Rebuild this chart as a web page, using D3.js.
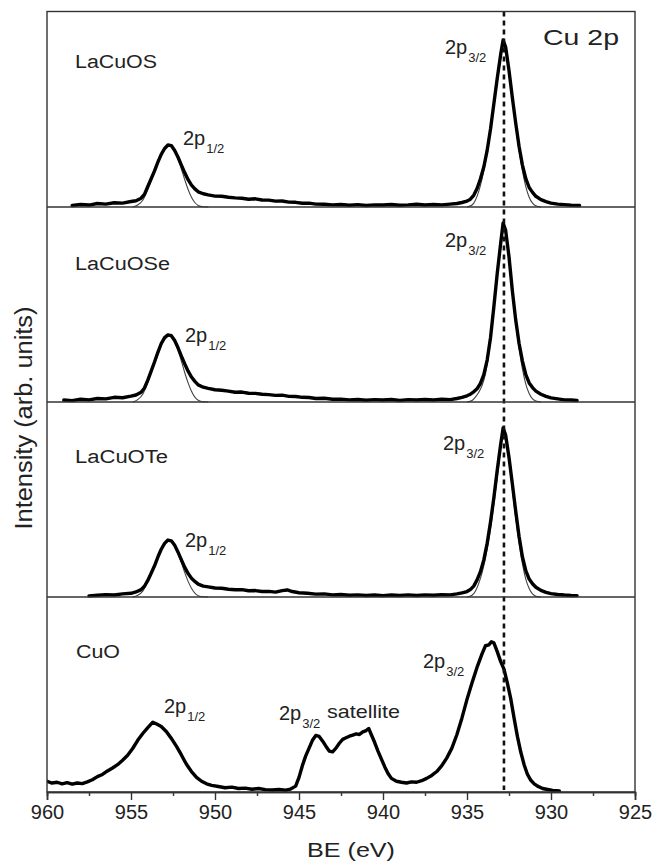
<!DOCTYPE html>
<html>
<head>
<meta charset="utf-8">
<script src="https://cdn.jsdelivr.net/npm/d3@7"></script>
<style>
  html, body { margin: 0; padding: 0; background: #fff; }
  svg { display: block; font-family: "Liberation Sans", Arial, sans-serif; }
</style>
</head>
<body>
<svg id="chart" width="654" height="865"></svg>
<script>
// ---------------- DATA ----------------
const panelNames = ["LaCuOS", "LaCuOSe", "LaCuOTe", "CuO"];
const xTicksMajor = [960, 955, 950, 945, 940, 935, 930, 925];
const xTicksMinor = [957.5, 952.5, 947.5, 942.5, 937.5, 932.5, 927.5];
const refLineBE = 932.8;

// [BE (eV), intensity (arb.)]
const lacuosData = [[958.5,0.8],[958.0,1.3],[957.5,1.0],[957.0,1.8],[956.5,1.5],[956.0,2.2],[955.5,2.0],[955.0,2.8],[954.7,3.2],[954.4,4.5],[954.2,6.5],[954.0,10.5],[953.8,14.5],[953.6,18.5],[953.4,23.0],[953.2,27.0],[953.0,30.0],[952.8,31.8],[952.6,31.5],[952.4,29.0],[952.2,25.5],[952.0,21.5],[951.8,17.5],[951.6,14.0],[951.4,11.2],[951.2,9.3],[951.0,7.8],[950.7,6.8],[950.4,6.2],[950.0,5.6],[949.6,5.5],[949.2,5.0],[948.8,4.7],[948.4,4.5],[948.0,4.0],[947.6,4.2],[947.2,3.6],[946.8,3.5],[946.4,3.0],[946.0,3.1],[945.6,2.5],[945.2,2.4],[944.8,1.9],[944.4,2.0],[944.0,1.5],[943.5,1.4],[943.0,1.1],[942.5,1.3],[942.0,0.9],[941.5,1.2],[941.0,0.8],[940.5,1.1],[940.0,1.0],[939.5,1.3],[939.0,0.9],[938.5,1.1],[938.0,1.4],[937.5,1.0],[937.0,1.3],[936.5,1.1],[936.0,1.5],[935.6,1.8],[935.3,2.3],[935.0,3.0],[934.8,4.0],[934.6,6.0],[934.4,9.5],[934.2,14.5],[934.0,20.5],[933.8,29.0],[933.6,40.0],[933.4,53.0],[933.2,66.0],[933.0,78.0],[932.85,85.6],[932.7,82.0],[932.5,70.0],[932.3,56.0],[932.1,43.0],[931.9,31.0],[931.7,21.5],[931.5,14.5],[931.3,10.0],[931.1,7.5],[930.9,5.5],[930.6,3.8],[930.3,2.8],[930.0,2.0],[929.6,1.5],[929.2,1.2],[928.8,0.9],[928.3,0.8]];
const lacuosFit32 = [[935.0,0],[934.7,1.0],[934.5,3.5],[934.3,8.0],[934.1,14.5],[933.9,23.0],[933.7,33.5],[933.5,46.0],[933.3,59.0],[933.1,72.0],[932.95,80.5],[932.85,84.5],[932.7,81.0],[932.5,69.0],[932.3,55.0],[932.1,41.5],[931.9,29.0],[931.7,18.5],[931.5,10.5],[931.3,5.0],[931.1,2.0],[930.9,0.6],[930.6,0]];
const lacuosFit12 = [[954.9,0],[954.6,1.0],[954.3,3.5],[954.0,9.0],[953.8,13.5],[953.6,18.0],[953.4,22.5],[953.2,26.5],[953.0,29.5],[952.8,31.3],[952.6,31.0],[952.4,28.5],[952.2,24.5],[952.0,19.5],[951.8,14.0],[951.6,9.0],[951.4,5.0],[951.2,2.3],[951.0,0.8],[950.7,0.1],[950.4,0]];

const lacuoseData = [[959.0,1.0],[958.5,0.7],[958.0,1.4],[957.5,1.1],[957.0,1.8],[956.5,1.6],[956.0,2.4],[955.5,2.2],[955.0,3.0],[954.7,3.6],[954.4,5.0],[954.2,7.2],[954.0,11.2],[953.8,15.8],[953.6,20.5],[953.4,25.5],[953.2,30.0],[953.0,33.0],[952.8,34.4],[952.6,34.0],[952.4,31.5],[952.2,27.8],[952.0,23.5],[951.8,19.5],[951.6,15.8],[951.4,12.8],[951.2,10.6],[951.0,8.8],[950.7,7.6],[950.4,7.0],[950.0,6.3],[949.6,6.0],[949.2,5.6],[948.8,5.0],[948.4,5.1],[948.0,4.5],[947.6,4.4],[947.2,4.0],[946.8,3.8],[946.4,3.4],[946.0,3.5],[945.6,2.9],[945.2,2.8],[944.8,2.4],[944.4,2.3],[944.0,1.8],[943.5,1.9],[943.0,1.4],[942.5,1.5],[942.0,1.1],[941.5,1.3],[941.0,0.9],[940.5,1.2],[940.0,1.0],[939.5,1.3],[939.0,0.8],[938.5,1.2],[938.0,1.0],[937.5,1.3],[937.0,1.0],[936.5,1.4],[936.0,1.2],[935.6,1.8],[935.3,2.4],[935.0,3.2],[934.8,4.0],[934.6,5.2],[934.4,6.8],[934.2,9.5],[934.0,14.0],[933.8,21.5],[933.6,33.0],[933.4,49.0],[933.2,66.0],[933.0,81.0],[932.85,91.8],[932.7,88.0],[932.5,74.5],[932.3,57.0],[932.1,42.0],[931.9,30.0],[931.7,21.0],[931.5,14.0],[931.3,9.8],[931.1,7.4],[930.9,5.6],[930.6,4.0],[930.3,2.9],[930.0,2.1],[929.6,1.6],[929.2,1.1],[928.8,1.0],[928.45,0.8]];
const lacuoseFit32 = [[935.0,0],[934.7,0.8],[934.5,2.5],[934.3,5.0],[934.1,8.5],[933.9,14.5],[933.7,25.0],[933.5,40.0],[933.3,57.0],[933.1,73.5],[932.95,85.5],[932.85,90.5],[932.7,87.0],[932.5,73.0],[932.3,56.0],[932.1,40.5],[931.9,27.5],[931.7,17.0],[931.5,9.2],[931.3,4.4],[931.1,1.6],[930.9,0.5],[930.6,0]];
const lacuoseFit12 = [[954.9,0],[954.6,1.2],[954.3,4.0],[954.0,10.0],[953.8,14.8],[953.6,19.8],[953.4,24.5],[953.2,28.8],[953.0,32.0],[952.8,33.8],[952.6,33.4],[952.4,30.8],[952.2,26.5],[952.0,21.0],[951.8,15.0],[951.6,9.8],[951.4,5.5],[951.2,2.5],[951.0,0.9],[950.7,0.1],[950.4,0]];

const lacuoteData = [[957.5,0.6],[957.0,0.9],[956.5,1.2],[956.0,1.0],[955.5,1.6],[955.0,1.9],[954.7,2.6],[954.4,3.8],[954.2,5.5],[954.0,8.5],[953.8,12.2],[953.6,16.0],[953.4,20.5],[953.2,24.5],[953.0,27.5],[952.8,29.2],[952.6,28.8],[952.4,26.5],[952.2,23.0],[952.0,19.0],[951.8,15.2],[951.6,12.0],[951.4,9.6],[951.2,8.0],[951.0,6.6],[950.7,5.6],[950.4,5.2],[950.0,4.6],[949.6,4.5],[949.2,4.0],[948.8,3.7],[948.4,3.8],[948.0,3.2],[947.6,3.3],[947.2,2.8],[946.8,2.9],[946.4,2.5],[946.0,3.3],[945.7,3.6],[945.4,2.8],[945.0,2.2],[944.5,1.9],[944.0,1.5],[943.5,1.6],[943.0,1.1],[942.5,1.3],[942.0,0.9],[941.5,1.1],[941.0,0.8],[940.5,1.0],[940.0,0.7],[939.5,1.0],[939.0,0.8],[938.5,1.1],[938.0,0.8],[937.5,1.1],[937.0,0.9],[936.5,1.2],[936.0,1.1],[935.6,1.6],[935.3,2.1],[935.0,2.8],[934.8,3.8],[934.6,5.6],[934.4,8.8],[934.2,13.0],[934.0,19.0],[933.8,27.5],[933.6,38.5],[933.4,51.0],[933.2,65.0],[933.0,78.0],[932.85,86.7],[932.7,83.0],[932.5,71.5],[932.3,58.0],[932.1,44.0],[931.9,31.0],[931.7,20.5],[931.5,13.5],[931.3,9.2],[931.1,6.8],[930.9,5.0],[930.6,3.4],[930.3,2.4],[930.0,1.7],[929.6,1.3],[929.2,1.0],[928.8,0.8],[928.45,0.7]];
const lacuoteFit32 = [[935.0,0],[934.7,0.9],[934.5,3.0],[934.3,7.0],[934.1,12.5],[933.9,20.0],[933.7,29.5],[933.5,41.0],[933.3,54.5],[933.1,68.5],[932.95,79.5],[932.85,85.5],[932.7,82.0],[932.5,70.0],[932.3,55.0],[932.1,40.5],[931.9,27.5],[931.7,17.0],[931.5,9.2],[931.3,4.4],[931.1,1.6],[930.9,0.4],[930.6,0]];
const lacuoteFit12 = [[954.9,0],[954.6,0.9],[954.3,3.0],[954.0,8.0],[953.8,12.0],[953.6,16.2],[953.4,20.3],[953.2,24.0],[953.0,27.0],[952.8,28.7],[952.6,28.3],[952.4,26.0],[952.2,22.2],[952.0,17.5],[951.8,12.5],[951.6,8.0],[951.4,4.5],[951.2,2.0],[951.0,0.7],[950.7,0.1],[950.4,0]];

const cuoData = [[960.0,5.5],[959.7,4.6],[959.4,5.0],[959.1,4.2],[958.8,4.8],[958.5,4.0],[958.2,4.6],[957.9,4.3],[957.6,5.2],[957.3,6.3],[957.0,7.9],[956.7,9.0],[956.4,10.8],[956.1,12.3],[955.8,14.0],[955.5,16.3],[955.2,18.8],[954.9,22.3],[954.6,26.5],[954.3,30.0],[954.0,33.0],[953.7,35.8],[953.5,35.0],[953.2,33.6],[952.9,31.0],[952.6,27.5],[952.3,23.5],[952.0,19.0],[951.7,14.2],[951.4,10.5],[951.1,7.5],[950.8,5.5],[950.5,4.2],[950.2,3.4],[949.8,2.8],[949.4,2.2],[949.0,2.5],[948.6,1.8],[948.2,2.0],[947.8,1.4],[947.4,1.8],[947.0,1.2],[946.6,1.0],[946.2,1.3],[945.8,0.9],[945.5,1.5],[945.2,3.0],[945.0,7.5],[944.8,13.5],[944.6,18.5],[944.4,22.5],[944.2,26.5],[944.0,29.0],[943.8,28.5],[943.6,26.2],[943.4,23.5],[943.2,21.0],[943.0,20.6],[942.8,22.5],[942.6,25.0],[942.4,27.0],[942.2,27.8],[942.0,28.6],[941.8,29.2],[941.6,29.8],[941.4,29.5],[941.2,30.8],[941.0,31.5],[940.85,32.6],[940.7,29.5],[940.5,25.5],[940.3,21.0],[940.1,17.0],[939.9,13.0],[939.7,9.5],[939.5,7.0],[939.2,5.5],[938.9,5.0],[938.6,4.6],[938.3,5.2],[938.0,5.0],[937.7,5.8],[937.4,7.0],[937.1,8.5],[936.8,10.5],[936.5,13.5],[936.2,17.5],[935.9,22.5],[935.6,29.5],[935.3,38.0],[935.0,47.5],[934.7,56.0],[934.4,64.0],[934.1,71.0],[933.9,75.0],[933.7,75.5],[933.55,77.0],[933.4,76.5],[933.2,72.0],[933.0,67.0],[932.8,63.0],[932.6,56.0],[932.4,48.0],[932.2,38.0],[932.0,28.5],[931.8,20.5],[931.6,14.0],[931.4,9.0],[931.2,6.0],[931.0,4.2],[930.8,3.0],[930.5,1.8],[930.2,1.3],[929.9,0.8],[929.5,0.5]];

const spectra = [lacuosData, lacuoseData, lacuoteData, cuoData];
const fits = [[lacuosFit32, lacuosFit12], [lacuoseFit32, lacuoseFit12], [lacuoteFit32, lacuoteFit12], []];

// ---------------- LAYOUT ----------------
const plotLeft = 47, plotRight = 635, plotTop = 11.5;
const panelBottoms = [207, 402, 597, 792];
const panelH = 195;

const svg = d3.select("#chart");
const x = d3.scaleLinear().domain([960, 925]).range([plotLeft, plotRight]);
const yScales = panelBottoms.map(b => d3.scaleLinear().domain([0, 100]).range([b, b - panelH]));

svg.append("defs").append("clipPath").attr("id", "clip")
  .append("rect").attr("x", plotLeft).attr("y", plotTop).attr("width", plotRight - plotLeft).attr("height", panelBottoms[3] - plotTop);

const g = svg.append("g").attr("clip-path", "url(#clip)");

// fits (thin)
fits.forEach((arr, i) => {
  const line = d3.line().x(d => x(d[0])).y(d => yScales[i](d[1])).curve(d3.curveMonotoneX);
  arr.forEach(f => {
    g.append("path").datum(f).attr("d", line)
      .attr("fill", "none").attr("stroke", "#444").attr("stroke-width", 1.1);
  });
});

// spectra (thick)
spectra.forEach((arr, i) => {
  const line = d3.line().x(d => x(d[0])).y(d => yScales[i](d[1]));
  g.append("path").datum(arr).attr("d", line)
    .attr("fill", "none").attr("stroke", "#000").attr("stroke-width", 3.4)
    .attr("stroke-linejoin", "round").attr("stroke-linecap", "round");
});

// dashed reference line
svg.append("line")
  .attr("x1", x(refLineBE)).attr("x2", x(refLineBE))
  .attr("y1", plotTop).attr("y2", panelBottoms[3] - 2)
  .attr("stroke", "#111").attr("stroke-width", 2.6).attr("stroke-dasharray", "5,4");

// frame & separators
svg.append("rect").attr("x", plotLeft).attr("y", plotTop).attr("width", plotRight - plotLeft).attr("height", panelBottoms[3] - plotTop)
  .attr("fill", "none").attr("stroke", "#333").attr("stroke-width", 1.4);
panelBottoms.slice(0, 3).forEach(b => {
  svg.append("line").attr("x1", plotLeft).attr("x2", plotRight).attr("y1", b).attr("y2", b)
    .attr("stroke", "#333").attr("stroke-width", 1.6);
});

// x axis
const axisG = svg.append("g").attr("transform", `translate(0,${panelBottoms[3]})`);
axisG.call(d3.axisBottom(x).tickValues(xTicksMajor).tickSize(8).tickPadding(5).tickFormat(d3.format("d")));
axisG.append("g").call(d3.axisBottom(x).tickValues(xTicksMinor).tickSize(4).tickFormat(""));
axisG.selectAll(".domain").attr("stroke", "#333").attr("stroke-width", 1.6);
axisG.selectAll(".tick line").attr("stroke", "#333").attr("stroke-width", 1.4);
axisG.selectAll(".tick text").attr("font-size", 20).attr("fill", "#222")
  .attr("font-family", "Liberation Sans, Arial, sans-serif").attr("dy", "0.71em");

// axis titles
svg.append("text").attr("x", 351).attr("y", 857).attr("text-anchor", "middle")
  .attr("font-size", 21).attr("fill", "#222").attr("textLength", 88).attr("lengthAdjust", "spacingAndGlyphs")
  .text("BE (eV)");
svg.append("text").attr("transform", "translate(32,418) rotate(-90)").attr("text-anchor", "middle")
  .attr("font-size", 23).attr("fill", "#222").attr("textLength", 223).attr("lengthAdjust", "spacingAndGlyphs")
  .text("Intensity (arb. units)");

// sample labels
const nameLayout = [[75, 68, 82], [75, 270, 95], [75, 463, 93], [76, 658, 44]];
panelNames.forEach((n, i) => {
  svg.append("text").attr("x", nameLayout[i][0]).attr("y", nameLayout[i][1])
    .attr("font-size", 18).attr("fill", "#222")
    .attr("textLength", nameLayout[i][2]).attr("lengthAdjust", "spacingAndGlyphs").text(n);
});

svg.append("text").attr("x", 543).attr("y", 45).attr("font-size", 22).attr("fill", "#222")
  .attr("textLength", 76).attr("lengthAdjust", "spacingAndGlyphs").text("Cu 2p");

// peak labels: [x, baseline, subscript]
const peakLabels = [
  [183, 145, "1/2"], [445, 54, "3/2"],
  [185, 342, "1/2"], [445, 247, "3/2"],
  [185, 547, "1/2"], [443, 450, "3/2"],
  [164, 713, "1/2"], [279, 720, "3/2"], [423, 668, "3/2"]
];
peakLabels.forEach(p => {
  const t = svg.append("text").attr("x", p[0]).attr("y", p[1]).attr("fill", "#222");
  t.append("tspan").attr("font-size", 20).text("2p");
  t.append("tspan").attr("font-size", 13).attr("dy", 8).attr("dx", 1).text(p[2]);
});
svg.append("text").attr("x", 327).attr("y", 718).attr("font-size", 19).attr("fill", "#222")
  .attr("textLength", 73).attr("lengthAdjust", "spacingAndGlyphs").text("satellite");
</script>
</body>
</html>
